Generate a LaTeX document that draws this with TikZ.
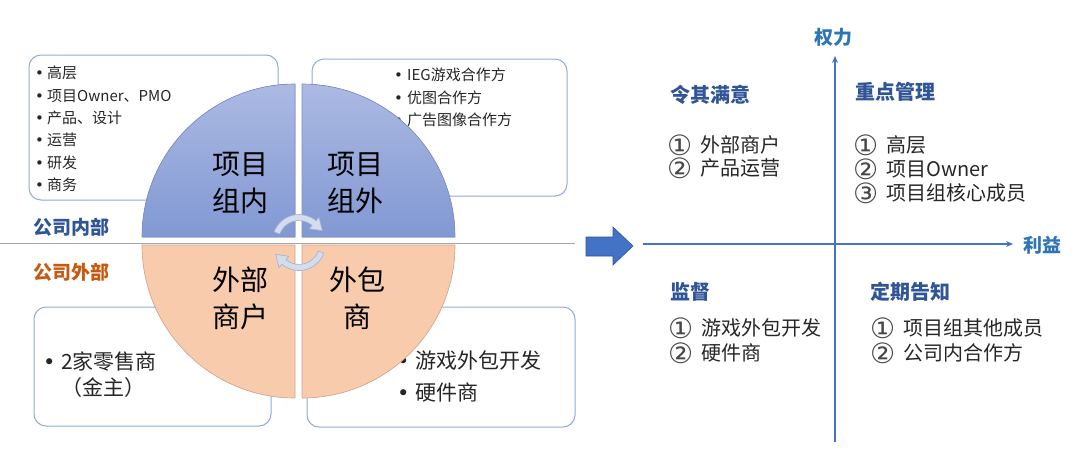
\documentclass[tikz,border=0pt]{standalone}
\usepackage{fontspec}
\setmainfont{Noto Sans CJK SC}
\newfontfamily\symfont{DejaVu Sans}
\usetikzlibrary{arrows.meta}
\definecolor{boxline}{HTML}{8FAADC}
\definecolor{bluetop}{HTML}{ACBAE3}
\definecolor{bluebot}{HTML}{8198D3}
\definecolor{blueedge}{HTML}{7F90C4}
\definecolor{orfill}{HTML}{F8CBAD}
\definecolor{oredge}{HTML}{C9A28A}
\definecolor{darkblue}{HTML}{2F5597}
\definecolor{ortext}{HTML}{C55A11}
\definecolor{axis}{HTML}{4472C4}
\definecolor{axislabel}{HTML}{2E75B6}
\definecolor{arrfill}{HTML}{D3DDEE}
\definecolor{arredge}{HTML}{A3B1CB}
\definecolor{txt}{HTML}{262626}
\newcommand\bul[1]{\makebox[#1][l]{\symfont •}}
\newcommand\cnum[1]{\makebox[33pt][l]{\smash{\raisebox{-2.5pt}{\fontsize{28}{28}\selectfont\symfont\color{txt!85}#1}}}}
\tikzset{
  listbox/.style={draw=boxline, line width=1pt, rounded corners=12pt, fill=white},
  bluequad/.style={top color=bluetop, bottom color=bluebot},
  orquad/.style={fill=orfill, draw=oredge, line width=0.6pt},
  quadtext/.style={align=center, text=black, font=\fontsize{28}{37}\selectfont, inner sep=0pt},
  smalllist/.style={anchor=west, align=left, inner sep=0pt, text=txt},
  header/.style={anchor=west, inner sep=0pt, text=darkblue, font=\fontsize{20}{24}\selectfont\bfseries},
  itemlist/.style={anchor=west, align=left, inner sep=0pt, text=txt},
  cyc/.style={fill=arrfill, draw=arredge, line width=0.6pt},
  axisline/.style={draw=axis, line width=1.6pt, -{Stealth[length=7pt,width=6pt]}},
}
\begin{document}
\begin{tikzpicture}[x=1pt,y=-1pt]
\useasboundingbox (0,0) rectangle (1080,475);
% list boxes
\draw[listbox] (29,55) rectangle (278,200);
\draw[listbox] (312,59) rectangle (567,196);
\draw[listbox] (34,307) rectangle (271,426);
\draw[listbox] (307,307) rectangle (575,427);
\node[smalllist, font=\fontsize{15}{22.4}\selectfont] (l1) at (35,129)
  {\bul{12pt}高层\\\bul{12pt}项目Owner、PMO\\\bul{12pt}产品、设计\\\bul{12pt}运营\\\bul{12pt}研发\\\bul{12pt}商务};
\node[smalllist, font=\fontsize{15}{22.5}\selectfont] (l2) at (394,97.5)
  {\bul{13pt}IEG游戏合作方\\\bul{13pt}优图合作方\\\bul{13pt}广告图像合作方};
\node[smalllist, font=\fontsize{21}{26}\selectfont] (l3) at (43,375)
  {\bul{18pt}2家零售商\\\makebox[18pt]{}（金主）};
\node[smalllist, font=\fontsize{21}{32}\selectfont] (l4) at (397,376)
  {\bul{18pt}游戏外包开发\\\bul{18pt}硬件商};
% quadrants
\fill[bluequad] (295,237) -- (142,237) arc[start angle=180, end angle=270, radius=153] -- cycle;
\fill[bluequad] (302,237) -- (302,84) arc[start angle=270, end angle=360, radius=153] -- cycle;
\draw[blueedge, line width=0.6pt] (295,237) -- (142,237) arc[start angle=180, end angle=270, radius=153] -- cycle;
\draw[blueedge, line width=0.6pt] (302,237) -- (302,84) arc[start angle=270, end angle=360, radius=153] -- cycle;
\draw[orquad] (295,245) -- (295,398) arc[start angle=90, end angle=180, radius=153] -- cycle;
\draw[orquad] (302,245) -- (455,245) arc[start angle=0, end angle=90, radius=153] -- cycle;
% divider line
\coordinate (dl) at (0,243.5);
\coordinate (dr) at (575,243.5);
\draw[color=black!35, line width=1.6pt] (dl) -- (dr);
% quadrant texts
\node[quadtext] (q1) at (240,182.5) {项目\\组内};
\node[quadtext] (q2) at (355,182.5) {项目\\组外};
\node[quadtext] (q3) at (240,298.5) {外部\\商户};
\node[quadtext] (q4) at (357,298.5) {外包\\商};
% cycle arrows
\begin{scope}[shift={(299,241)}]
\draw[cyc] (200:26.5) arc[start angle=200, end angle=310, radius=26.5] -- (310:31) -- (336:25.5) -- (310:16) -- (310:20.5) arc[start angle=310, end angle=200, radius=20.5] -- cycle;
\end{scope}
\begin{scope}[shift={(299,244)}]
\draw[cyc] (20:26.5) arc[start angle=20, end angle=130, radius=26.5] -- (130:31) -- (156:25.5) -- (130:16) -- (130:20.5) arc[start angle=130, end angle=20, radius=20.5] -- cycle;
\end{scope}
% side labels
\node[anchor=west, inner sep=0pt, text=darkblue, font=\fontsize{19}{22}\selectfont\bfseries] (inside) at (33,227) {公司内部};
\node[anchor=west, inner sep=0pt, text=ortext, font=\fontsize{19}{22}\selectfont\bfseries] (outside) at (33,272) {公司外部};
% block arrow
\draw[fill=axis, draw=darkblue, line width=0.6pt] (586,237) -- (613,237) -- (613,227) -- (633,246) -- (613,265) -- (613,256) -- (586,256) -- cycle;
% axes
\coordinate (ybot) at (835,442);
\coordinate (ytop) at (835,56);
\coordinate (xl) at (643,244);
\coordinate (xr) at (1013,244);
\draw[axisline] (ybot) -- (ytop);
\draw[axisline] (xl) -- (xr);
\node[inner sep=0pt, text=axislabel, font=\fontsize{19}{22}\selectfont\bfseries] (power) at (833,37) {权力};
\node[inner sep=0pt, text=axislabel, font=\fontsize{19}{22}\selectfont\bfseries] (benefit) at (1042,245) {利益};
% quadrant headers
\node[header] (h1) at (670,95) {令其满意};
\node[header] (h2) at (855,92) {重点管理};
\node[header] (h3) at (670,292) {监督};
\node[header] (h4) at (870,292) {定期告知};
% items
\node[itemlist, font=\fontsize{20}{23}\selectfont] (i1) at (667,156.5) {\cnum{①}外部商户\\\cnum{②}产品运营};
\node[itemlist, font=\fontsize{20}{24}\selectfont] (i2) at (853,169) {\cnum{①}高层\\\cnum{②}项目Owner\\\cnum{③}项目组核心成员};
\node[itemlist, font=\fontsize{20}{25}\selectfont] (i3) at (668,340.5) {\cnum{①}游戏外包开发\\\cnum{②}硬件商};
\node[itemlist, font=\fontsize{20}{25}\selectfont] (i4) at (870,340.5) {\cnum{①}项目组其他成员\\\cnum{②}公司内合作方};
\end{tikzpicture}
\end{document}
